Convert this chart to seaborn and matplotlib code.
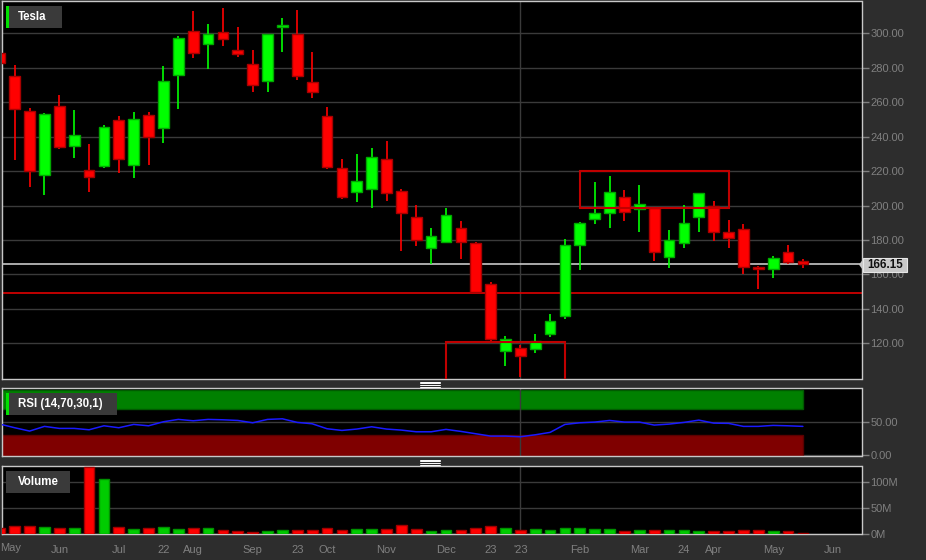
import numpy as np
import pandas as pd
import seaborn as sns
import matplotlib.pyplot as plt
from matplotlib.patches import Rectangle, Polygon
from matplotlib.lines import Line2D

W, H = 926, 560

# --- Daten (Wochenkerzen Tesla, Mai 2022 - Mai 2023) ---
week = list(range(55))
open_ = [288.6, 275.3, 255.0, 217.9, 257.7, 234.3, 220.8, 222.7, 249.6, 223.7,
         252.7, 244.8, 275.5, 301.2, 293.8, 300.4, 290.3, 282.0, 272.2, 303.3,
         299.4, 271.6, 251.7, 221.9, 208.0, 209.4, 226.8, 208.4, 193.6, 175.4,
         179.0, 187.0, 178.1, 154.3, 115.8, 117.6, 116.6, 125.5, 136.0, 177.1,
         192.4, 195.8, 204.8, 197.8, 198.4, 170.3, 178.1, 193.2, 199.9, 184.6,
         186.2, 164.0, 163.2, 173.2, 167.7]
high = [318.0, 281.3, 256.3, 253.5, 263.9, 255.4, 235.7, 246.5, 251.7, 254.0,
        254.0, 280.9, 298.3, 312.9, 305.0, 314.3, 303.7, 290.0, 299.6, 308.5,
        313.2, 288.8, 257.1, 226.8, 229.7, 233.2, 237.2, 209.4, 200.1, 186.8,
        198.4, 191.0, 179.0, 155.7, 124.2, 118.9, 125.5, 137.1, 180.4, 190.5,
        213.4, 216.9, 209.2, 211.7, 199.1, 185.6, 200.1, 207.3, 202.4, 191.4,
        189.1, 165.0, 170.6, 176.9, 169.2]
low = [281.0, 226.2, 210.6, 205.9, 232.9, 227.4, 208.0, 221.9, 218.7, 215.8,
       223.3, 236.4, 255.8, 285.5, 279.0, 292.5, 285.9, 265.8, 265.6, 288.8,
       272.8, 262.1, 221.2, 203.8, 201.9, 198.4, 202.4, 173.6, 176.5, 165.9,
       178.1, 168.8, 149.3, 120.5, 106.8, 100.6, 114.3, 123.8, 134.0, 162.4,
       189.1, 187.2, 191.2, 184.8, 168.0, 163.6, 175.5, 184.8, 179.2, 175.5,
       160.1, 151.4, 158.2, 166.1, 164.0]
close = [282.8, 256.1, 219.8, 252.9, 233.7, 241.0, 216.3, 245.3, 227.0, 250.3,
         239.7, 272.0, 296.9, 288.2, 299.6, 296.5, 288.0, 270.0, 299.4, 304.5,
         275.1, 266.0, 222.1, 204.8, 214.0, 227.9, 207.2, 195.5, 180.0, 182.1,
         194.3, 178.7, 149.7, 122.6, 122.4, 112.6, 121.6, 132.9, 177.1, 189.7,
         195.5, 207.8, 196.5, 200.9, 173.0, 179.8, 189.9, 207.1, 184.6, 181.2,
         164.6, 163.4, 169.6, 167.2, 166.15]
volume_m = [11.7, 15.0, 14.4, 13.0, 11.0, 11.7, 130.0, 106.0, 13.0, 8.5,
            11.0, 12.4, 9.7, 11.7, 11.0, 7.8, 5.8, 3.9, 4.6, 7.2,
            7.8, 7.2, 10.5, 7.8, 9.1, 9.1, 9.1, 16.3, 8.5, 5.8,
            6.5, 7.2, 10.5, 15.6, 11.0, 7.8, 8.5, 7.2, 11.0, 10.5,
            8.5, 8.5, 5.2, 7.2, 7.2, 7.2, 6.5, 5.2, 4.6, 5.8,
            7.2, 6.5, 5.2, 5.2, 0.5]
rsi = [47.4, 41.8, 36.7, 43.9, 40.8, 40.8, 38.7, 44.8, 41.8, 46.9,
       44.8, 51.0, 54.6, 52.5, 54.6, 54.0, 53.0, 49.4, 54.6, 55.5,
       50.0, 47.9, 40.3, 37.7, 39.8, 43.3, 39.8, 38.2, 35.6, 35.6,
       39.3, 36.2, 32.6, 29.0, 29.0, 28.0, 31.0, 34.7, 46.9, 49.4,
       50.5, 53.0, 50.5, 50.5, 45.9, 47.4, 50.0, 53.5, 48.9, 48.5,
       43.9, 43.9, 45.4, 44.8, 43.9]

last_price = 166.15
support = 149.1
xtick_pos = [4, 8, 11, 13, 17, 20, 22, 26, 30, 33, 35, 39, 43, 46, 48, 52, 56]
xtick_lab = ["Jun", "Jul", "22", "Aug", "Sep", "23", "Oct", "Nov", "Dec", "23",
             "'23", "Feb", "Mar", "24", "Apr", "May", "Jun"]

df = pd.DataFrame({"week": week, "open": open_, "high": high, "low": low,
                   "close": close, "vol": volume_m, "rsi": rsi})
df["dir"] = np.where(df["close"] >= df["open"], "up", "down")

# --- Stil ---
sns.set_style("dark", {"axes.facecolor": "black", "figure.facecolor": "#2d2d2d",
                       "axes.edgecolor": "#c8c8c8", "grid.color": "#3a3a3a"})
plt.rcParams["font.family"] = ["Liberation Sans", "DejaVu Sans"]

grey = "#808080"
fig = plt.figure(figsize=(W / 100, H / 100), dpi=100)
fig.patch.set_facecolor("#2d2d2d")


def box(l, t, r, b):
    return [l / W, 1 - b / H, (r - l) / W, (b - t) / H]


ax = fig.add_axes(box(1.5, 1, 861.5, 379))
ax_rsi = fig.add_axes(box(1.5, 387.5, 861.5, 456))
ax_vol = fig.add_axes(box(1.5, 465.5, 861.5, 534))
xlim = (0.11, 57.94)

# --- Kerzen ---
is_up = df["dir"] == "up"
fill = np.where(is_up, "#00ff00", "#ff0000")
edge = np.where(is_up, "#00a800", "#a80000")
body_lo = df[["open", "close"]].min(axis=1)
body_h = np.maximum((df["open"] - df["close"]).abs(), 1.0)
ax.vlines(df["week"], df["low"], df["high"], colors=fill, lw=1.2, zorder=3)
ax.bar(df["week"], body_h, bottom=body_lo, width=0.72, color=fill,
       edgecolor=edge, linewidth=1, zorder=4)

ax.axhline(last_price, color="#c8c8c8", lw=1.2, zorder=2)
ax.axhline(support, color="#e00000", lw=1.2, zorder=2)
ax.add_patch(Rectangle((39, 198.3), 10, 21.9, fill=False, ec="#c00000", lw=1.5, zorder=5))
ax.add_patch(Rectangle((30, 90), 8, 31, fill=False, ec="#c00000", lw=1.5, zorder=5))
ax.axvline(35, color="#3a3a3a", lw=1, zorder=1)

ax.set_xlim(xlim)
ax.set_ylim(99.4, 318.6)
ax.set_yticks(range(120, 301, 20))
ax.set_yticklabels([f"{v:.2f}" for v in range(120, 301, 20)])
ax.set_xticks([])

# --- RSI ---
ax_rsi.add_patch(Rectangle((0, 70), 54, 30, fc="#008000", ec="#005a00", lw=1, zorder=1))
ax_rsi.add_patch(Rectangle((0, -2), 54, 32, fc="#7f0000", ec="#5a0000", lw=1, zorder=1))
sns.lineplot(data=df, x="week", y="rsi", ax=ax_rsi, color="#1a1aff", lw=1.1, zorder=3)
ax_rsi.axvline(35, color="#3a3a3a", lw=1, zorder=2)
ax_rsi.set_xlim(xlim)
ax_rsi.set_ylim(-1.5, 103.5)
ax_rsi.set_yticks([0, 50])
ax_rsi.set_yticklabels(["0.00", "50.00"])
ax_rsi.set_xticks([])
ax_rsi.set_xlabel("")
ax_rsi.set_ylabel("")

# --- Volumen ---
sns.barplot(data=df, x="week", y="vol", hue="dir", native_scale=True, dodge=False,
            palette={"up": "#00cc00", "down": "#ff0000"}, width=0.72, saturation=1,
            errorbar=None, legend=False, ax=ax_vol, zorder=3)
for p in ax_vol.patches:
    fc = p.get_facecolor()
    p.set_edgecolor("#a00000" if fc[0] > 0.5 else "#009000")
    p.set_linewidth(1)
ax_vol.axvline(35, color="#3a3a3a", lw=1, zorder=2)
ax_vol.set_xlim(xlim)
ax_vol.set_ylim(-0.6, 133)
ax_vol.set_yticks([0, 50, 100])
ax_vol.set_yticklabels(["0M", "50M", "100M"])
ax_vol.set_xticks(xtick_pos)
ax_vol.set_xticklabels(xtick_lab)
ax_vol.set_xlabel("")
ax_vol.set_ylabel("")

for a in (ax, ax_rsi, ax_vol):
    a.yaxis.tick_right()
    a.grid(axis="y", color="#3a3a3a", lw=1, zorder=0)
    a.grid(axis="x", visible=False)
    a.set_axisbelow(True)
    a.tick_params(axis="both", colors=grey, labelcolor=grey, labelsize=8,
                  length=5, width=1, pad=1.5)
    for s in a.spines.values():
        s.set_color("#c8c8c8")
        s.set_linewidth(1)
ax_vol.tick_params(axis="x", pad=3)
fig.text(11 / W, 1 - 548 / H, "May", color=grey, fontsize=8, ha="center", va="center")


# --- Beschriftungsboxen ---
def label_box(l, t, r, b, text, strip=True):
    fig.add_artist(Rectangle((l / W, 1 - b / H), (r - l) / W, (b - t) / H,
                             transform=fig.transFigure, fc="#3a3a3a", ec="none", zorder=10))
    if strip:
        fig.add_artist(Rectangle((l / W, 1 - b / H), 3 / W, (b - t) / H,
                                 transform=fig.transFigure, fc="#00e000", ec="none", zorder=11))
    fig.text((l + 12) / W, 1 - (t + b) / 2 / H, text, color="white", fontsize=8.3,
             fontweight="bold", ha="left", va="center", zorder=12)


label_box(6, 6, 62, 28, "Tesla")
label_box(6, 393.3, 117, 414.7, "RSI (14,70,30,1)")
label_box(6, 471, 70, 492.7, "Volume", strip=False)

# Preisschild rechts
fig.add_artist(Polygon([(859 / W, 1 - 264.7 / H), (864 / W, 1 - 258 / H), (864 / W, 1 - 271.5 / H)],
                       closed=True, transform=fig.transFigure, fc="#c8c8c8", ec="none", zorder=10))
fig.add_artist(Rectangle((863 / W, 1 - 271.7 / H), 44 / W, 14 / H, transform=fig.transFigure,
                         fc="#c8c8c8", ec="#e6e6e6", lw=0.8, zorder=10))
fig.text(885 / W, 1 - 264.7 / H, f"{last_price:.2f}", color="#111111", fontsize=8.3,
         fontweight="bold", ha="center", va="center", zorder=12)

# Griffe zwischen den Panels
for y0 in (381.7, 459.7):
    for k in range(4):
        y = 1 - (y0 + k * 1.6) / H
        fig.add_artist(Line2D([420 / W, 440 / W], [y, y], transform=fig.transFigure,
                              color="white", lw=0.7, zorder=10))

plt.savefig("out.png", dpi=100, facecolor=fig.get_facecolor())
plt.close()
